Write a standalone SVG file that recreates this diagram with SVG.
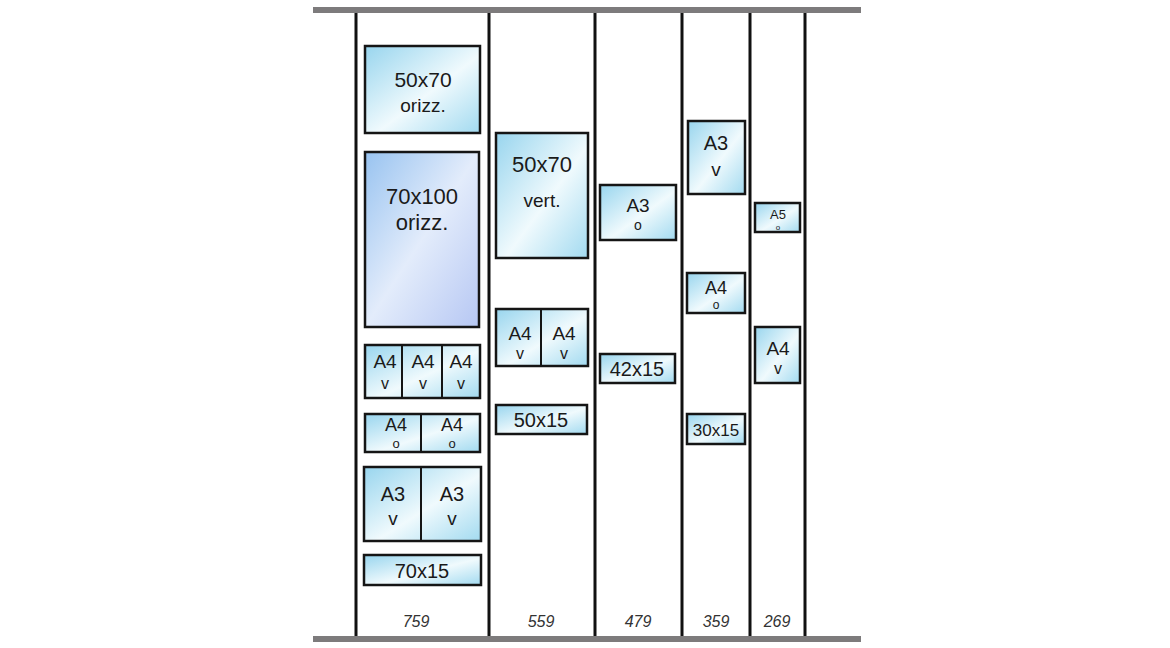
<svg xmlns="http://www.w3.org/2000/svg" width="1170" height="648" viewBox="0 0 1170 648">
<defs>
<linearGradient id="g" x1="0" y1="0" x2="1" y2="1">
<stop offset="0" stop-color="#98d5ee"/>
<stop offset="0.55" stop-color="#f0fafd"/>
<stop offset="1" stop-color="#a2daf0"/>
</linearGradient>
<linearGradient id="gb" x1="0" y1="0" x2="1" y2="1">
<stop offset="0" stop-color="#98c3f0"/>
<stop offset="0.5" stop-color="#e3ecfb"/>
<stop offset="1" stop-color="#b6c7f3"/>
</linearGradient>
<style>
.b{fill:url(#g);stroke:#151515;stroke-width:2.5}
.bb{fill:url(#gb);stroke:#151515;stroke-width:2.5}
.d{stroke:#151515;stroke-width:2}
.t{font-family:"Liberation Sans",Arial,sans-serif;fill:#1a1a1a;text-anchor:middle}
.n{font-family:"Liberation Sans",Arial,sans-serif;font-style:italic;font-size:16px;fill:#333;text-anchor:middle}
.bar{fill:#7d7b7c}
.col{stroke:#111;stroke-width:3}
</style>
</defs>
<rect class="bar" x="313" y="7" width="548" height="6"/>
<rect class="bar" x="313" y="636" width="548" height="6"/>
<g id="columns">
<line class="col" x1="356" y1="13" x2="356" y2="636"/>
<line class="col" x1="489" y1="13" x2="489" y2="636"/>
<line class="col" x1="595" y1="13" x2="595" y2="636"/>
<line class="col" x1="682" y1="13" x2="682" y2="636"/>
<line class="col" x1="750" y1="13" x2="750" y2="636"/>
<line class="col" x1="805" y1="13" x2="805" y2="636"/>
</g>
<g id="col1">
<g id="n50x70o"><rect class="b" x="365" y="46" width="115" height="87"/><text class="t" x="423" y="87" font-size="21">50x70</text><text class="t" x="423" y="112" font-size="19">orizz.</text></g>
<g id="n70x100"><rect class="bb" x="365" y="152" width="114" height="175"/><text class="t" x="422" y="204" font-size="22">70x100</text><text class="t" x="422" y="230" font-size="22">orizz.</text></g>
<g id="nA4v3"><rect class="b" x="365" y="345" width="115" height="53"/><line class="d" x1="402" y1="345" x2="402" y2="398"/><line class="d" x1="442" y1="345" x2="442" y2="398"/>
<text class="t" x="385" y="368" font-size="19">A4</text><text class="t" x="385" y="389" font-size="16">v</text>
<text class="t" x="423" y="368" font-size="19">A4</text><text class="t" x="423" y="389" font-size="16">v</text>
<text class="t" x="461" y="368" font-size="19">A4</text><text class="t" x="461" y="389" font-size="16">v</text></g>
<g id="nA4o2"><rect class="b" x="365" y="414" width="115" height="38"/><line class="d" x1="421" y1="414" x2="421" y2="452"/>
<text class="t" x="396" y="431" font-size="18">A4</text><text class="t" x="396" y="448" font-size="13">o</text>
<text class="t" x="452" y="431" font-size="18">A4</text><text class="t" x="452" y="448" font-size="13">o</text></g>
<g id="nA3v2"><rect class="b" x="364" y="467" width="117" height="74"/><line class="d" x1="421" y1="467" x2="421" y2="541"/>
<text class="t" x="393" y="501" font-size="20">A3</text><text class="t" x="393" y="525" font-size="19">v</text>
<text class="t" x="452" y="501" font-size="20">A3</text><text class="t" x="452" y="525" font-size="19">v</text></g>
<g id="n70x15"><rect class="b" x="364" y="555" width="117" height="30"/><text class="t" x="422" y="578" font-size="20">70x15</text></g>
<text class="n" x="416" y="627">759</text>
</g>
<g id="col2">
<g id="n50x70v"><rect class="b" x="496" y="133" width="92" height="125"/><text class="t" x="542" y="172" font-size="22">50x70</text><text class="t" x="542" y="207" font-size="19">vert.</text></g>
<g id="nA4v2"><rect class="b" x="496" y="309" width="92" height="57"/><line class="d" x1="541" y1="309" x2="541" y2="366"/>
<text class="t" x="520" y="340" font-size="19">A4</text><text class="t" x="520" y="359" font-size="16">v</text>
<text class="t" x="564" y="340" font-size="19">A4</text><text class="t" x="564" y="359" font-size="16">v</text></g>
<g id="n50x15"><rect class="b" x="496" y="405" width="91" height="29"/><text class="t" x="541" y="427" font-size="20">50x15</text></g>
<text class="n" x="541" y="627">559</text>
</g>
<g id="col3">
<g id="nA3o"><rect class="b" x="600" y="185" width="76" height="55"/><text class="t" x="638" y="212" font-size="19">A3</text><text class="t" x="638" y="230" font-size="14">o</text></g>
<g id="n42x15"><rect class="b" x="600" y="354" width="75" height="29"/><text class="t" x="637" y="376" font-size="20">42x15</text></g>
<text class="n" x="638" y="627">479</text>
</g>
<g id="col4">
<g id="nA3v"><rect class="b" x="688" y="121" width="57" height="73"/><text class="t" x="716" y="150" font-size="20">A3</text><text class="t" x="716" y="176" font-size="19">v</text></g>
<g id="nA4o"><rect class="b" x="687" y="273" width="58" height="40"/><text class="t" x="716" y="294" font-size="18">A4</text><text class="t" x="716" y="309" font-size="12">o</text></g>
<g id="n30x15"><rect class="b" x="687" y="414" width="58" height="30"/><text class="t" x="716" y="436" font-size="17">30x15</text></g>
<text class="n" x="716" y="627">359</text>
</g>
<g id="col5">
<g id="nA5o"><rect class="b" x="755" y="203" width="45" height="29"/><text class="t" x="778" y="219" font-size="13">A5</text><text class="t" x="778" y="229.5" font-size="8">o</text></g>
<g id="nA4v"><rect class="b" x="755" y="327" width="45" height="56"/><text class="t" x="778" y="355" font-size="19">A4</text><text class="t" x="778" y="374" font-size="16">v</text></g>
<text class="n" x="777" y="627">269</text>
</g>
</svg>
